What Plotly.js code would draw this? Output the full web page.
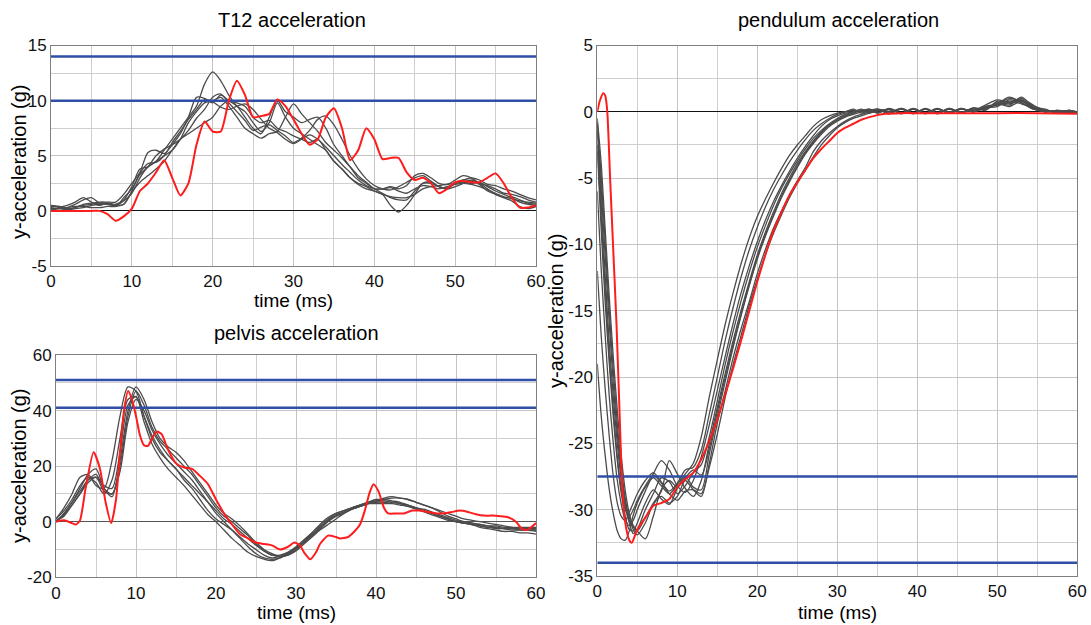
<!DOCTYPE html>
<html>
<head>
<meta charset="utf-8">
<script src="https://cdn.plot.ly/plotly-3.0.1.min.js"></script>
<style>html,body{margin:0;padding:0;background:#fff;}#chart{width:1091px;height:625px;}</style>
</head>
<body>
<div id="chart"></div>
<script>
// ---------- T12 acceleration ----------
const t12Time = [0,1,2,3,4,5,6,7,8,9,10,11,12,13,14,15,16,17,18,19,20,21,22,23,24,25,26,27,28,29,30,31,32,33,34,35,36,37,38,39,40,41,42,43,44,45,46,47,48,49,50,51,52,53,54,55,56,57,58,59,60];
const t12Gray1 = [0.3,0.4,0.3,0.6,1.0,1.2,0.7,0.6,0.5,0.9,1.6,3,4,4.5,5.5,6.5,7.5,8.5,9.5,11.5,12.6,11.8,10.5,9.5,9,8,7.2,8,9.8,8.5,7.5,7,6.5,6,5.5,4.5,3.8,3,2.5,2.2,1.8,1.5,0.5,-0.1,0.5,1.5,2.5,2.6,2.2,2,2.5,2.8,2.7,2.4,1.8,1.5,1.2,1.3,1,0.7,0.6];
const t12Gray2 = [0.4,0.3,0.1,0.3,0.6,0.7,0.8,0.8,0.8,1.5,2.5,3.5,5.3,5.5,5.2,6,7,8.5,10.3,10.2,9.8,10.5,10,9.5,8.5,7.5,7,8.5,10,9,8.5,8,8.3,8.5,7.5,6,5,4,3,2.5,2,2,2.2,2,2.3,3.2,3.4,3,2.5,2.4,2.8,3.2,3,2.5,2.3,2,1.6,1.5,1.3,1,0.8];
const t12Gray3 = [0,0.3,0.5,0.8,1.2,0.8,0.5,0.7,0.6,1,2.2,3.8,4,4.5,5,5.5,6.5,8,9,9.8,10,10.3,9.5,8.5,7.5,7,6.6,7,7.2,8.5,9.7,8.8,8,7.2,6.2,5.5,4.8,4,3.2,2.6,2,1.6,1.2,1,1,1.8,2.5,2.5,2.2,2,2.2,2.5,2.8,2.5,2,1.5,1.2,0.9,0.4,0.2,0.4];
const t12Gray4 = [0.2,0.2,0.1,0.2,0.3,0.5,0.6,0.6,0.5,0.6,1.7,2.6,3.2,3.8,4.5,5.5,6.5,7,7.5,8,8.5,9.5,10,9.8,9.5,8.5,8,8.2,7.5,7.2,6.8,6.5,6.2,6.5,5.5,4.5,3.8,3,2.4,2,1.8,1.5,1.3,1.2,1.2,1.5,2,2.2,2.3,2.4,2.5,2.6,2.5,2.6,2.2,1.8,1.5,1.2,0.8,0.6,0.5];
const t12Gray5 = [0.5,0.4,0.2,0.3,0.5,0.6,0.7,0.7,0.4,1.2,2,3.3,4,5,5.6,6,6.5,7.3,8.4,9.2,10.3,10.6,9.8,9,8.2,7.3,7.6,7.8,7.3,6.8,6.2,6.6,7.3,8.3,8.6,7.8,6.5,5,3.8,2.9,2.3,2,1.9,2.2,2.6,3,3.2,2.7,2.2,2.1,2.5,2.8,3,2.8,2.4,2.3,2,1.8,1.5,1.2,1];
const t12Gray6 = [0.1,0.2,0.3,0.4,0.4,0.3,0.3,0.4,0.4,0.6,1.8,3.4,4.3,4.4,5,6.2,7.2,8.3,9.2,10.1,9.9,9.4,9.2,9.5,9.7,9.2,8.3,7.5,7.1,6.5,6.1,6.5,6.9,6.5,5.8,5,4.2,3.5,2.8,2.3,2,2,2.1,1.8,1.6,2,2.3,2.2,2,2.2,2.4,2.5,2.4,2.2,1.9,1.6,1.3,1.1,0.9,0.8,0.7];
const t12Red = [0,0,0,0,0,0,0,-0.3,-0.9,-0.5,0.2,1.8,2.5,3.5,4.6,3,1.4,2.5,6,8.1,7.2,7.2,10,11.8,10.5,8.5,8.6,8.8,10.1,9.5,8.3,7,6,6.5,8.5,9.3,7.5,4.6,5.5,7.5,6.5,4.7,4.8,4.8,3.5,2.8,3,2.5,1.6,2,2.6,2.7,2.6,2.6,3,3.4,2.5,1.2,0.3,0.3,0.5];
const t12Limits = [14, 10];
const t12YTicks = [-5, 0, 5, 10, 15];
const t12YLabels = ['-5', '0', '5', '10', '15'];

// ---------- pelvis acceleration ----------
const pelvisTime = [0,1,2,3,4,5,6,7,8,9,10,11,12,13,14,15,16,17,18,19,20,21,22,23,24,25,26,27,28,29,30,31,32,33,34,35,36,37,38,39,40,41,42,43,44,45,46,47,48,49,50,51,52,53,54,55,56,57,58,59,60];
const pelvisGray1 = [1,5,10,16,17,13,12,22,38,48.5,47,38,30,25,22,19,16,13,10,7,4,1,-1,-3.5,-6,-8.5,-10.5,-12,-12.5,-12,-10,-7.5,-5,-2.5,0.5,2.5,3.5,5,6,7,7.5,7.5,7,6.5,5.5,5,4,3,2,1,0,-0.5,-1,-1.5,-2,-2.5,-2.5,-2.5,-3,-3,-3];
const pelvisGray2 = [0,3,7,12,17,19,12,9,22,40,48.5,44,36,30,27,25,22,18,14,10,6,3,1,-1.5,-4.5,-7.5,-10,-11.5,-12.5,-12,-10.5,-8,-5.5,-3,-1,1,3,4.5,5.5,6.5,7,8,8.5,8.5,8,7,6,5,3.5,2,1,0,-0.5,-1,-1.5,-1.5,-2,-2,-2.5,-2.5,-3];
const pelvisGray3 = [0.5,2,6,10,15,16,11,10,18,36,44,40,33,28,24,21,18,15,11,7,3,0,-3,-6,-9,-11.5,-13,-13.5,-13,-11.5,-9.5,-7,-4.5,-2,0.5,2,3,4.5,5.5,6.5,7,7,7,6.5,6,5,4,3,2,1,0,-0.5,-1,-2,-2.5,-3,-3.5,-3.5,-4,-4,-4.5];
const pelvisGray4 = [0,2.5,6,10,14,16,13,12,25,42,45,38,31,26,22,19,15,12,8,4,1,-1,-3,-5.5,-8,-10,-12,-13,-12.5,-11,-9,-6.5,-4,-1.5,1,3,4,5,6,7,8,8,7.5,7,6,5,4.5,3.5,2.5,1.5,0.5,0,-0.5,-1,-1.5,-2,-2.5,-2.5,-2.5,-2.5,-2.5];
const pelvisGray5 = [1,4,8,13,16,14,10,15,30,44,45,36,28,23,19,16,13,9.5,6,2.5,0,-3,-6,-8.5,-11,-12.5,-13.5,-14,-13,-11.5,-9.5,-7,-4,-1,1.5,3,4,5,6,6.5,6.5,6.5,6.5,6,5.5,4.5,3.5,2.5,1.5,0.5,0,-0.5,-1,-1.5,-2,-2,-2.5,-3,-3,-3,-3.5];
const pelvisGray6 = [0,3,7,11,15,17,12,10,20,38,47,42,34,29,26,23,20,17,13,9,5,2,0,-2.5,-5,-8,-10.5,-12,-12,-11,-9.5,-7.5,-5,-2.5,0,2,3.5,4.5,5.5,6.5,7.5,8.5,9,8.5,8,7,6,5,4,3,2,1,0.5,0,-0.5,-1,-1.5,-2,-2,-2,-2];
const pelvisRedTime = [0,1,2,2.5,3,3.7,4.7,5.5,6.2,6.9,7.5,8,8.5,9,9.5,10,10.5,11,11.5,12,12.6,13.2,14,15,16,17,18,19,20,21,22,23,24,25,26,27,28,29,29.8,30.5,31,31.8,32.5,33,34,35,35.5,36.5,37.3,38,38.6,39.2,39.7,40.3,41,41.5,42.5,43.5,44.5,45.5,46.5,47.5,48.5,49.5,50.5,51.5,52.5,53.5,54.5,55.5,56.5,57.5,58.2,58.8,59.4,60];
const pelvisRed = [0,0.5,-0.5,-1,0.5,12,25,19,7,-0.5,8,25,40,47,44,38,31,27.5,27.3,30,32.5,31.5,26,21,19.5,19,16.5,13.5,8,3,-1,-4.5,-6,-7.5,-8,-8.5,-10,-9,-7.5,-8.5,-11,-13.5,-11,-8,-5,-5.5,-6,-5.5,-3.5,-1,4,10.5,13.5,11,5,3,3,3,4,4,3.5,3,3,3.5,4,3.5,2.7,2.2,2.2,2,1.6,0,-2.5,-3,-2,-0.5];
const pelvisLimits = [51, 41];
const pelvisYTicks = [-20, 0, 20, 40, 60];
const pelvisYLabels = ['-20', '0', '20', '40', '60'];

// ---------- pendulum acceleration ----------
const pendTime = [0,0.5,1,1.5,2,2.5,3,3.5,4,4.5,5,6,7,8,9,10,11,12,13,14,15,16,17,18,19,20,21,22,23,24,25,26,27,28,29,30,31,32,33,34,35,36.5,38,39.5,41,42.5,44,45.5,47,48.5,50,51.5,53,54.5,56,57.5,59,60];
const pendGray1 = [-19,-23,-26,-28.5,-30.3,-31.6,-32.2,-32.3,-31.6,-30.4,-29.5,-28.3,-27.6,-28.2,-28.8,-28.1,-27.3,-26.5,-24.5,-21.5,-18.7,-16,-13.6,-11.4,-9.5,-7.9,-6.6,-5.4,-4.3,-3.3,-2.5,-1.8,-1.1,-0.6,-0.3,-0.1,0,0.1,0,0.2,-0.1,0.25,-0.1,0.2,-0.15,0.2,-0.1,0.25,0,0.4,0.6,1.0,0.8,0.3,0.1,0,0.1,0];
const pendGray2 = [-12,-17,-21,-24.5,-27.5,-29.5,-30.5,-30.8,-30.2,-29.5,-28.8,-27.8,-27.2,-27.9,-28.6,-28,-27,-26.8,-25.5,-22.8,-20,-17.2,-14.7,-12.4,-10.4,-8.7,-7.2,-5.9,-4.8,-3.8,-2.9,-2.1,-1.4,-0.9,-0.5,-0.2,0,0.2,-0.1,0.1,0.2,-0.15,0.25,-0.1,0.2,-0.15,0.25,-0.05,0.3,0.2,0.7,0.5,1.1,0.4,0.2,-0.1,0.1,-0.1];
const pendGray3 = [-6,-12,-17,-21.5,-25,-27.8,-29.6,-30.8,-31.2,-30.8,-30,-28.6,-27.3,-26.3,-27,-28.2,-28.7,-27.8,-26,-23.6,-21,-18.4,-15.9,-13.6,-11.6,-9.8,-8.2,-6.8,-5.6,-4.5,-3.5,-2.6,-1.8,-1.1,-0.6,-0.3,-0.1,0,0.2,-0.1,0.2,0,0.25,-0.1,0.2,-0.05,0.2,-0.1,0.3,0.1,0.8,0.6,0.9,0.3,0,0.1,-0.1,0];
const pendGray4 = [-3,-9,-14.5,-19,-23,-26.3,-28.8,-30.5,-31.5,-31.6,-31,-29.5,-28.5,-29.2,-29.6,-28.4,-27.5,-28.3,-28.5,-25.8,-23,-20.3,-17.7,-15.3,-13.1,-11.1,-9.4,-7.9,-6.5,-5.3,-4.2,-3.2,-2.4,-1.7,-1.1,-0.7,-0.4,-0.2,0,0.1,-0.1,0.2,-0.1,0.25,-0.1,0.2,0,0.2,0.1,0.5,0.9,0.7,1.0,0.5,0.1,0,-0.1,0];
const pendGray5 = [-1.5,-7,-12.5,-17.5,-21.5,-25,-27.8,-29.8,-31,-31.8,-31.5,-30,-28.8,-27.6,-27.9,-28.8,-28.2,-27.2,-26.6,-24.5,-21.8,-19,-16.5,-14.2,-12.1,-10.2,-8.6,-7.1,-5.8,-4.7,-3.7,-2.8,-2,-1.4,-0.9,-0.5,-0.2,0,0.1,0.2,-0.05,0.2,-0.1,0.2,-0.1,0.25,-0.1,0.2,0,0.3,0.5,0.8,0.6,0.3,0,0.1,0,-0.1];
const pendGray6 = [-1,-6,-11,-16,-20.5,-24.3,-27.3,-29.5,-30.8,-31.3,-31.6,-30.6,-29.5,-28.6,-26.3,-27.3,-28.4,-29,-27.8,-25,-22.3,-19.7,-17.2,-14.9,-12.8,-10.8,-9.1,-7.6,-6.2,-5,-3.9,-3,-2.2,-1.5,-1,-0.6,-0.3,-0.1,0.1,0,0.2,-0.1,0.2,-0.15,0.25,-0.1,0.2,0,0.2,0.3,0.4,0.9,0.7,0.2,0,0.1,0,0];
const pendGray7 = [-0.8,-5,-10,-15,-19.5,-23.5,-26.8,-29.2,-30.6,-31.5,-31.9,-31,-29.6,-29,-29.5,-29,-27.8,-28.5,-29,-26.5,-23.5,-21,-18.5,-16.3,-14.3,-12.2,-10.4,-8.8,-7.5,-6.3,-5.2,-4.2,-3,-2.2,-1.6,-1.1,-0.7,-0.4,-0.2,0,0.1,0.15,-0.1,0.2,-0.1,0.2,-0.05,0.25,0,0.4,0.5,0.7,0.9,0.4,0.1,0,0.1,-0.1];
const pendGray8 = [-0.5,-4,-9,-14,-18.5,-22.5,-26,-28.6,-30.3,-31.2,-31.6,-32.2,-30.5,-28.5,-27.8,-28.3,-27.6,-27,-27.4,-25.4,-22.6,-20,-17.5,-15.2,-13,-11,-9.3,-7.8,-6.4,-5.2,-4.1,-3.1,-2.3,-1.6,-1,-0.6,-0.3,-0.1,0.1,0,0.15,-0.1,0.2,-0.1,0.2,-0.1,0.25,-0.1,0.2,0.2,0.6,0.4,0.8,0.3,0,0.05,-0.1,0];
const pendGray9 = [-2.5,-8,-13.5,-18.5,-22.5,-26,-28.5,-30,-30.5,-30,-29.3,-28.2,-27.4,-28,-28.8,-29.3,-28.6,-28.5,-28.8,-26.8,-24.3,-21.5,-19,-16.8,-14.6,-12.6,-10.8,-9.2,-7.8,-6.5,-5.4,-4.4,-3.4,-2.5,-1.8,-1.2,-0.8,-0.5,-0.3,-0.1,0.05,0.2,-0.15,0.2,-0.1,0.2,-0.1,0.2,0,0.3,0.6,1.1,0.7,0.2,0.1,-0.1,0,-0.1];
const pendRedTime = [0,0.3,0.75,1,1.25,1.6,2,2.4,2.8,3.1,3.5,4,4.3,5,6,7,8,9,10,11,12,13,14,15,16,17,18,19,20,21,22,23,24,25,26,27,28,29,30,31,32,33,34,35,36,38,40,45,50,55,60];
const pendRed = [0,0.8,1.4,1.2,0,-5,-10.5,-16,-23,-28,-31,-32.3,-32.5,-31.5,-30.6,-29.7,-29.5,-29.2,-28.3,-27.7,-27.2,-26.2,-24.8,-23.2,-21.3,-19.3,-17.2,-15,-12.8,-10.8,-9,-7.6,-6.3,-5.3,-4.4,-3.5,-2.8,-2.2,-1.6,-1.2,-0.9,-0.6,-0.4,-0.25,-0.15,-0.1,-0.1,-0.1,-0.1,-0.1,-0.15];
const pendLimits = [-27.5, -34];
const pendYTicks = [-35, -30, -25, -20, -15, -10, -5, 0, 5];
const pendYLabels = ['-35', '-30', '-25', '-20', '-15', '-10', '-5', '0', '5'];

const xTicks = [0, 10, 20, 30, 40, 50, 60];
const xLabels = ['0', '10', '20', '30', '40', '50', '60'];
const xRange = [0, 60];

const GRAY = '#4b4b4b', RED = '#ff1c1c', BLUE = '#2f4ea6';
const traces = [];

function addPanel(xa, ya, time, grays, redT, redY, limits) {
  grays.forEach(g => traces.push({x: time, y: g, xaxis: xa, yaxis: ya, type: 'scatter', mode: 'lines',
    line: {color: GRAY, width: 1.3, shape: 'spline', smoothing: 0.8}, hoverinfo: 'skip'}));
  limits.forEach(v => traces.push({x: xRange, y: [v, v], xaxis: xa, yaxis: ya, type: 'scatter', mode: 'lines',
    line: {color: BLUE, width: 2.5}, hoverinfo: 'skip'}));
  traces.push({x: redT, y: redY, xaxis: xa, yaxis: ya, type: 'scatter', mode: 'lines',
    line: {color: RED, width: 2, shape: 'spline', smoothing: 0.6}, hoverinfo: 'skip'});
}

addPanel('x', 'y', t12Time, [t12Gray1, t12Gray2, t12Gray3, t12Gray4, t12Gray5, t12Gray6], t12Time, t12Red, t12Limits);
addPanel('x2', 'y2', pelvisTime, [pelvisGray1, pelvisGray2, pelvisGray3, pelvisGray4, pelvisGray5, pelvisGray6], pelvisRedTime, pelvisRed, pelvisLimits);
addPanel('x3', 'y3', pendTime, [pendGray1, pendGray2, pendGray3, pendGray4, pendGray5, pendGray6, pendGray7, pendGray8, pendGray9], pendRedTime, pendRed, pendLimits);

const FONT = 'Liberation Sans, Arial, sans-serif';
function xAx(domain, anchor) {
  return {domain: domain, anchor: anchor, range: xRange, tickmode: 'array', tickvals: xTicks, ticktext: xLabels, ticks: '',
    showgrid: true, gridcolor: '#c4c4c4', gridwidth: 1,
    minor: {tickmode: 'linear', tick0: 0, dtick: 5, showgrid: true, gridcolor: '#cfcfcf', gridwidth: 1},
    showline: true, linecolor: '#7f7f7f', linewidth: 1, mirror: true, zeroline: false,
    tickfont: {family: FONT, size: 17, color: '#111'}, fixedrange: true};
}
function yAx(domain, anchor, range, vals, labels, minorStep, zc) {
  return {domain: domain, anchor: anchor, range: range, tickmode: 'array', tickvals: vals, ticktext: labels, ticks: '',
    showgrid: true, gridcolor: '#c4c4c4', gridwidth: 1,
    minor: {tickmode: 'linear', tick0: 0, dtick: minorStep, showgrid: true, gridcolor: '#cfcfcf', gridwidth: 1},
    showline: true, linecolor: '#7f7f7f', linewidth: 1, mirror: true,
    zeroline: true, zerolinecolor: zc, zerolinewidth: 1,
    tickfont: {family: FONT, size: 17, color: '#111'}, fixedrange: true};
}
const W = 1091, H = 625;
function ann(text, px, py, size, rot) {
  return {text: text, xref: 'paper', yref: 'paper', x: px / W, y: 1 - py / H, xanchor: 'center', yanchor: 'middle',
    showarrow: false, textangle: rot || 0, font: {family: FONT, size: size, color: '#000'}};
}

const layout = {
  width: W, height: H, margin: {l: 0, r: 0, t: 0, b: 0},
  paper_bgcolor: '#fff', plot_bgcolor: '#fff', showlegend: false,
  xaxis: xAx([51 / W, 536 / W], 'y'),
  yaxis: yAx([1 - 266 / H, 1 - 45.5 / H], 'x', [-5, 15], t12YTicks, t12YLabels, 2.5, '#111'),
  xaxis2: xAx([56 / W, 536 / W], 'y2'),
  yaxis2: yAx([1 - 577.3 / H, 1 - 355 / H], 'x2', [-20, 60], pelvisYTicks, pelvisYLabels, 10, '#555'),
  xaxis3: xAx([597.3 / W, 1077.3 / W], 'y3'),
  yaxis3: yAx([1 - 576 / H, 1 - 45.5 / H], 'x3', [-35, 5], pendYTicks, pendYLabels, 2.5, '#111'),
  annotations: [
    ann('T12 acceleration', 292, 20, 20),
    ann('time (ms)', 293, 300, 19),
    ann('y-acceleration (g)', 19, 162, 20, -90),
    ann('pelvis acceleration', 297, 333, 20),
    ann('time (ms)', 296, 612, 19),
    ann('y-acceleration (g)', 19, 466, 20, -90),
    ann('pendulum acceleration', 838, 20, 20),
    ann('time (ms)', 837, 612, 19),
    ann('y-acceleration (g)', 556, 311, 20, -90)
  ]
};
Plotly.newPlot('chart', traces, layout, {staticPlot: true, displayModeBar: false});
</script>
</body>
</html>
